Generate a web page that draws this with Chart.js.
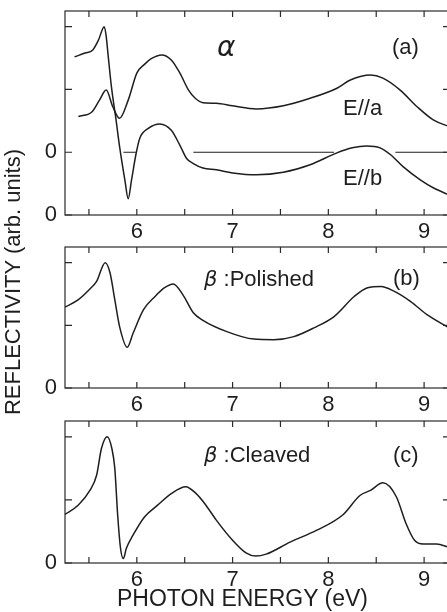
<!DOCTYPE html>
<html>
<head>
<meta charset="utf-8">
<script src="https://cdn.jsdelivr.net/npm/chart.js@4.4.1/dist/chart.umd.min.js"></script>
<style>
  html, body { margin: 0; padding: 0; background: #fff; overflow: hidden; }
  #fig { position: relative; width: 447px; height: 612px; overflow: hidden; }
  #fig canvas { position: absolute; left: 0; }
  .lbl { position: absolute; font-family: "Liberation Sans", Arial, sans-serif; font-size: 22px; line-height: 22px; color: #1e1e1e; white-space: pre; }
  .greek { font-family: "DejaVu Sans", sans-serif; font-style: italic; }
  #yTitle { left: -137px; top: 269px; width: 300px; height: 26px; line-height: 26px; text-align: center; transform: rotate(-90deg); }
  #xTitle { left: 0; width: 485px; top: 587px; font-size: 23px; line-height: 23px; text-align: center; }
</style>
</head>
<body>
<div id="fig">
  <canvas id="panelA" width="460" height="245" style="top:0px"></canvas>
  <canvas id="panelB" width="460" height="182" style="top:236px"></canvas>
  <canvas id="panelC" width="460" height="183" style="top:410px"></canvas>

  <div class="lbl greek" style="left:217px; top:33px; font-size:28px; line-height:28px;">α</div>
  <div class="lbl" style="left:392px; top:36px;">(a)</div>
  <div class="lbl" style="left:343px; top:97px;">E//a</div>
  <div class="lbl" style="left:343px; top:167px;">E//b</div>

  <div class="lbl" style="left:204px; top:268px;"><span class="greek" style="font-size:21px;">β</span> :Polished</div>
  <div class="lbl" style="left:393px; top:267px;">(b)</div>

  <div class="lbl" style="left:204px; top:444px;"><span class="greek" style="font-size:21px;">β</span> :Cleaved</div>
  <div class="lbl" style="left:393px; top:444px;">(c)</div>

  <div class="lbl" id="yTitle">REFLECTIVITY (arb. units)</div>
  <div class="lbl" id="xTitle">PHOTON ENERGY (eV)</div>
</div>

<script>
// photon energy axis
const energyMin = 5.25;
const energyMax = 9.26;
const energyTicks = [5.5, 6, 6.5, 7, 7.5, 8, 8.5, 9];

// (a) alpha phase, E//a -- drawn shifted up by one unit, its own zero line
const alphaAEnergy = [5.39, 5.53, 5.61, 5.68, 5.75, 5.82, 5.91, 6.00, 6.08, 6.15, 6.26, 6.36, 6.45, 6.54, 6.61,
                      6.69, 6.83, 7.00, 7.25, 7.53, 7.81, 8.09, 8.23, 8.44, 8.57, 8.75, 8.93, 9.10, 9.26];
const alphaAReflect = [0.57, 0.64, 0.83, 0.99, 0.72, 0.54, 0.83, 1.26, 1.40, 1.49, 1.55, 1.47, 1.26, 0.99, 0.86,
                       0.79, 0.78, 0.74, 0.69, 0.74, 0.86, 1.02, 1.15, 1.23, 1.18, 0.99, 0.72, 0.51, 0.41];
const alphaAOffset = 1;

// (a) alpha phase, E//b
const alphaBEnergy = [5.35, 5.46, 5.54, 5.60, 5.66, 5.68, 5.70, 5.735, 5.78, 5.82, 5.875, 5.91, 5.945, 5.99, 6.03,
                      6.12, 6.24, 6.36, 6.45, 6.52, 6.59, 6.69, 6.83, 7.00, 7.25, 7.53, 7.81, 8.09, 8.25, 8.40,
                      8.54, 8.65, 8.78, 8.96, 9.10, 9.26];
const alphaBReflect = [2.52, 2.58, 2.63, 2.79, 3.00, 2.85, 2.55, 2.04, 1.55, 1.09, 0.56, 0.26, 0.56, 0.96, 1.22,
                       1.38, 1.45, 1.35, 1.11, 0.90, 0.82, 0.75, 0.72, 0.67, 0.64, 0.68, 0.80, 0.99, 1.07, 1.10,
                       1.07, 0.96, 0.77, 0.56, 0.43, 0.32];

// pieces of the E//a zero line (broken where E//b runs through it)
const zeroLineFrom = [5.86, 6.59, 8.70];
const zeroLineTo = [5.99, 8.06, 9.26];

// (b) beta phase, polished surface
const polishedEnergy = [5.25, 5.39, 5.51, 5.58, 5.67, 5.72, 5.77, 5.82, 5.90, 5.96, 6.07, 6.19, 6.29, 6.38, 6.48,
                        6.59, 6.69, 6.94, 7.22, 7.43, 7.64, 7.85, 8.06, 8.27, 8.41, 8.55, 8.68, 8.86, 9.03, 9.26];
const polishedReflect = [1.29, 1.41, 1.58, 1.70, 2.00, 1.84, 1.41, 0.98, 0.65, 0.87, 1.25, 1.46, 1.60, 1.66, 1.49,
                         1.20, 1.08, 0.90, 0.78, 0.77, 0.82, 0.96, 1.14, 1.46, 1.60, 1.62, 1.55, 1.38, 1.17, 0.96];

// (c) beta phase, cleaved surface
const cleavedEnergy = [5.25, 5.39, 5.51, 5.58, 5.63, 5.69, 5.74, 5.77, 5.80, 5.83, 5.86, 5.89, 5.96, 6.08, 6.22,
                       6.36, 6.51, 6.62, 6.71, 6.83, 7.00, 7.14, 7.24, 7.35, 7.60, 7.88, 8.15, 8.33, 8.44, 8.57,
                       8.71, 8.81, 8.90, 8.99, 9.13, 9.26];
const cleavedReflect = [0.77, 0.92, 1.15, 1.39, 1.81, 2.00, 1.81, 1.50, 0.76, 0.23, 0.07, 0.23, 0.44, 0.73, 0.92,
                        1.10, 1.21, 1.10, 0.94, 0.68, 0.36, 0.16, 0.11, 0.14, 0.33, 0.52, 0.76, 1.07, 1.15, 1.27,
                        1.05, 0.63, 0.36, 0.30, 0.30, 0.25];

const ink = '#1e1e1e';
const tickFont = { family: '"Liberation Sans", Arial, sans-serif', size: 22 };

function toPoints(xs, ys, shift) {
    return xs.map((x, i) => ({ x: x, y: ys[i] + (shift || 0) }));
}

function zeroLine(shift) {
    const pts = [];
    zeroLineFrom.forEach((x0, i) => {
        if (i > 0) pts.push({ x: (zeroLineTo[i - 1] + x0) / 2, y: null });
        pts.push({ x: x0, y: shift }, { x: zeroLineTo[i], y: shift });
    });
    return pts;
}

// keep the plot box where we put it: no extra room for half-labels
function fixPadding(s) {
    s.paddingTop = 0;
    s.paddingBottom = 0;
    s.paddingLeft = 0;
    s.paddingRight = 0;
}

// box around the plot with short inward ticks on all four sides
const framePlugin = {
    id: 'frame',
    afterDraw(chart) {
        const { ctx, chartArea: a, scales: { x, y } } = chart;
        ctx.save();
        ctx.strokeStyle = '#2a2a2a';
        ctx.lineWidth = 1.2;
        ctx.strokeRect(a.left, a.top, a.right - a.left, a.bottom - a.top);
        ctx.beginPath();
        x.ticks.forEach(t => {
            const px = x.getPixelForValue(t.value);
            ctx.moveTo(px, a.bottom); ctx.lineTo(px, a.bottom - 6);
            ctx.moveTo(px, a.top); ctx.lineTo(px, a.top + 6);
        });
        y.ticks.forEach(t => {
            const py = y.getPixelForValue(t.value);
            ctx.moveTo(a.left, py); ctx.lineTo(a.left + 7, py);
            ctx.moveTo(a.right, py); ctx.lineTo(a.right - 6, py);
        });
        ctx.stroke();
        ctx.restore();
    }
};

function makePanel(id, datasets, yMax, yTicks, zeroTicks) {
    return new Chart(document.getElementById(id), {
        type: 'line',
        data: { datasets: datasets },
        options: {
            responsive: false,
            animation: false,
            layout: { padding: { top: 11, right: 11, left: 0, bottom: 0 } },
            plugins: { legend: { display: false }, tooltip: { enabled: false } },
            elements: {
                point: { radius: 0 },
                line: { borderColor: ink, borderWidth: 1.5, cubicInterpolationMode: 'monotone', fill: false }
            },
            scales: {
                x: {
                    type: 'linear',
                    min: energyMin,
                    max: energyMax,
                    grid: { display: false, drawTicks: false },
                    border: { display: false },
                    afterBuildTicks: s => { s.ticks = energyTicks.map(v => ({ value: v })); },
                    afterFit: s => { s.height = 30; fixPadding(s); },
                    ticks: {
                        padding: 4, color: ink, font: tickFont, autoSkip: false, maxRotation: 0,
                        callback: v => Number.isInteger(v) ? String(v) : ''
                    }
                },
                y: {
                    type: 'linear',
                    min: 0,
                    max: yMax,
                    grid: { display: false, drawTicks: false },
                    border: { display: false },
                    afterBuildTicks: s => { s.ticks = yTicks.map(v => ({ value: v })); },
                    afterFit: s => { s.width = 65; fixPadding(s); },
                    ticks: {
                        padding: 8, color: ink, font: tickFont, autoSkip: false,
                        callback: v => zeroTicks.includes(v) ? '0' : ''
                    }
                }
            }
        },
        plugins: [framePlugin]
    });
}

makePanel('panelA', [
    { data: toPoints(alphaAEnergy, alphaAReflect, alphaAOffset) },
    { data: toPoints(alphaBEnergy, alphaBReflect) },
    { data: zeroLine(alphaAOffset), borderWidth: 1.2, cubicInterpolationMode: 'default', tension: 0, spanGaps: false }
], 3.25, [0, 1, 2, 3], [0, alphaAOffset]);

makePanel('panelB', [
    { data: toPoints(polishedEnergy, polishedReflect) }
], 2.25, [0, 1, 2], [0]);

makePanel('panelC', [
    { data: toPoints(cleavedEnergy, cleavedReflect) }
], 2.25, [0, 1, 2], [0]);
</script>
</body>
</html>
